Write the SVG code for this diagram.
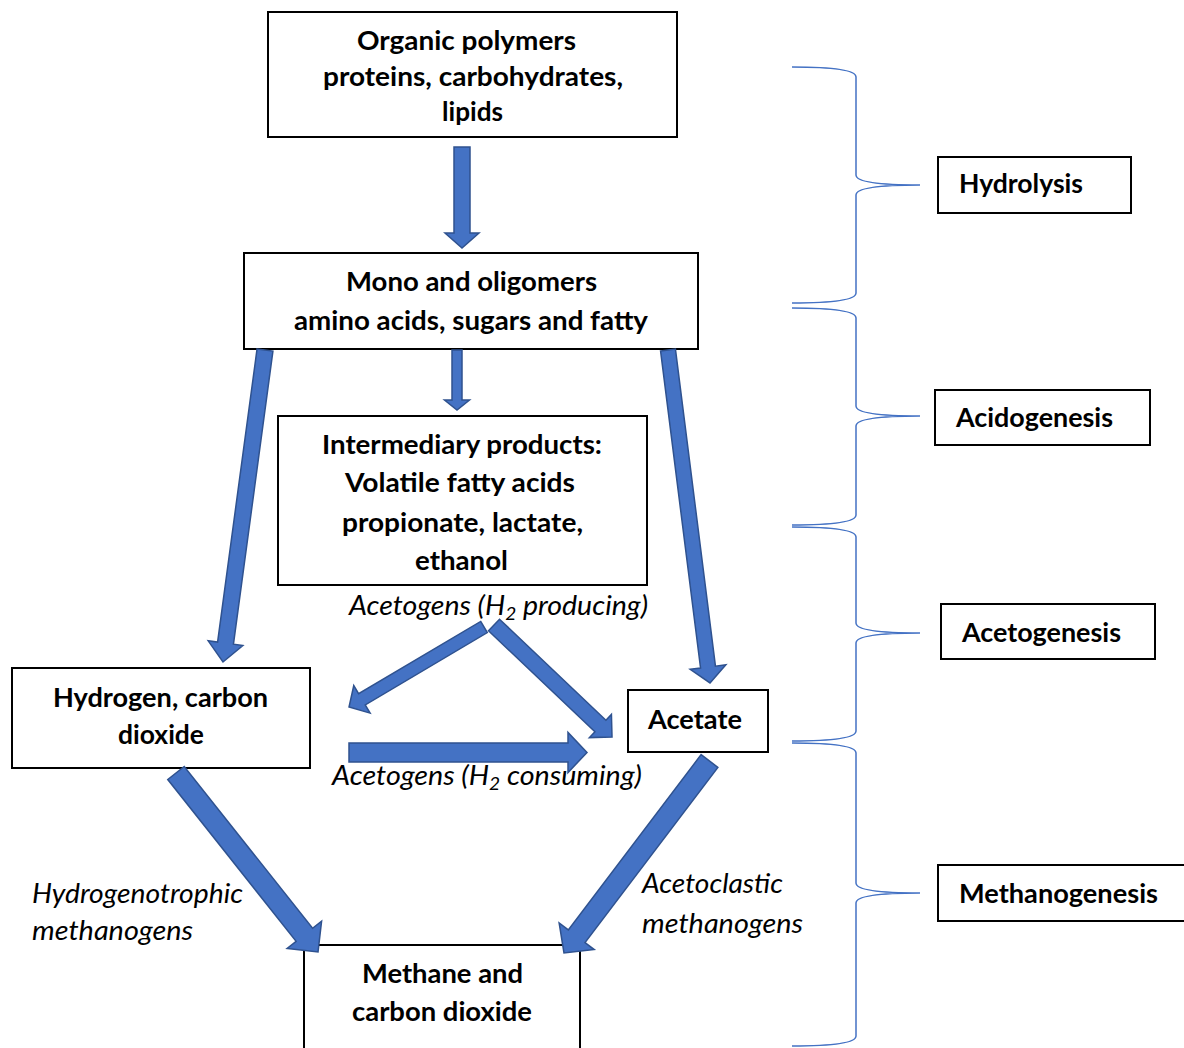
<svg xmlns="http://www.w3.org/2000/svg" width="1184" height="1048" viewBox="0 0 1184 1048">
<style>
.box{fill:#fff;stroke:#000;stroke-width:2}
.t{font-family:Lato,"Open Sans","Liberation Sans",sans-serif;font-weight:bold;font-size:27px;fill:#000}
.it{font-family:Lato,"Open Sans","Liberation Sans",sans-serif;font-style:italic;font-size:27px;fill:#000}
.arr{fill:#4472C4;stroke:#2F528F;stroke-width:1.5;stroke-linejoin:miter}
.brace{fill:none;stroke:#4472C4;stroke-width:1.5}
</style>
<rect width="1184" height="1048" fill="#fff"/>
<g id="organic-polymers">
<rect class="box" x="268" y="12" width="409" height="125"/>
<text class="t" x="357" y="50" textLength="219" lengthAdjust="spacingAndGlyphs">Organic polymers</text>
<text class="t" x="323" y="86" textLength="300" lengthAdjust="spacingAndGlyphs">proteins, carbohydrates,</text>
<text class="t" x="442" y="121" textLength="61" lengthAdjust="spacingAndGlyphs">lipids</text>
</g>
<g id="mono-oligomers">
<rect class="box" x="244" y="253" width="454" height="96"/>
<text class="t" x="346" y="291" textLength="251" lengthAdjust="spacingAndGlyphs">Mono and oligomers</text>
<text class="t" x="294" y="330" textLength="354" lengthAdjust="spacingAndGlyphs">amino acids, sugars and fatty</text>
</g>
<g id="intermediary">
<rect class="box" x="278" y="416" width="369" height="169"/>
<text class="t" x="322" y="454" textLength="280" lengthAdjust="spacingAndGlyphs">Intermediary products:</text>
<text class="t" x="345" y="492" textLength="230" lengthAdjust="spacingAndGlyphs">Volatile fatty acids</text>
<text class="t" x="342" y="532" textLength="241" lengthAdjust="spacingAndGlyphs">propionate, lactate,</text>
<text class="t" x="415" y="570" textLength="93" lengthAdjust="spacingAndGlyphs">ethanol</text>
</g>
<g id="hydrogen-co2">
<rect class="box" x="12" y="668" width="298" height="100"/>
<text class="t" x="53" y="707" textLength="215" lengthAdjust="spacingAndGlyphs">Hydrogen, carbon</text>
<text class="t" x="118" y="744" textLength="86" lengthAdjust="spacingAndGlyphs">dioxide</text>
</g>
<g id="acetate">
<rect class="box" x="628" y="690" width="140" height="62"/>
<text class="t" x="648" y="729" textLength="94" lengthAdjust="spacingAndGlyphs">Acetate</text>
</g>
<g id="methane-co2">
<rect class="box" x="304" y="945" width="276" height="120"/>
<text class="t" x="362" y="983" textLength="161" lengthAdjust="spacingAndGlyphs">Methane and</text>
<text class="t" x="352" y="1021" textLength="180" lengthAdjust="spacingAndGlyphs">carbon dioxide</text>
</g>
<g id="hydrolysis">
<rect class="box" x="938" y="157" width="193" height="56"/>
<text class="t" x="959" y="193" textLength="124" lengthAdjust="spacingAndGlyphs">Hydrolysis</text>
</g>
<g id="acidogenesis">
<rect class="box" x="935" y="390" width="215" height="55"/>
<text class="t" x="956" y="427" textLength="157" lengthAdjust="spacingAndGlyphs">Acidogenesis</text>
</g>
<g id="acetogenesis">
<rect class="box" x="941" y="604" width="214" height="55"/>
<text class="t" x="962" y="642" textLength="159" lengthAdjust="spacingAndGlyphs">Acetogenesis</text>
</g>
<g id="methanogenesis">
<rect class="box" x="938" y="865" width="260" height="56"/>
<text class="t" x="959" y="903" textLength="199" lengthAdjust="spacingAndGlyphs">Methanogenesis</text>
</g>
<g id="labels">
<text class="it" x="349" y="615" textLength="299" lengthAdjust="spacingAndGlyphs">Acetogens (H<tspan font-size="18" dy="5">2</tspan><tspan dy="-5"> producing)</tspan></text>
<text class="it" x="332" y="785" textLength="310" lengthAdjust="spacingAndGlyphs">Acetogens (H<tspan font-size="18" dy="5">2</tspan><tspan dy="-5"> consuming)</tspan></text>
<text class="it" x="32" y="903" textLength="211" lengthAdjust="spacingAndGlyphs">Hydrogenotrophic</text>
<text class="it" x="32" y="940" textLength="161" lengthAdjust="spacingAndGlyphs">methanogens</text>
<text class="it" x="642" y="893" textLength="141" lengthAdjust="spacingAndGlyphs">Acetoclastic</text>
<text class="it" x="642" y="933" textLength="161" lengthAdjust="spacingAndGlyphs">methanogens</text>
</g>
<g id="connectors">
<polygon class="arr" points="-8,0 8,0 8,86 17,86 0,101 -17,86 -8,86" transform="translate(462,147)"/>
<polygon class="arr" points="-5,0 5,0 5,50 12.5,50 0,60 -12.5,50 -5,50" transform="translate(457,350)"/>
<polygon class="arr" points="-8,0 8,0 8,295.8 17.5,295.8 0,314.8 -17.5,295.8 -8,295.8" transform="translate(265,350) rotate(7.67)"/>
<polygon class="arr" points="-7.5,0 7.5,0 7.5,319.6 18,319.6 0,335.6 -18,319.6 -7.5,319.6" transform="translate(668,350) rotate(-7.19)"/>
<polygon class="arr" points="-6.5,0 6.5,0 6.5,141.9 16,141.9 0,156.9 -16,141.9 -6.5,141.9" transform="translate(484,627) rotate(59.35)"/>
<polygon class="arr" points="-8,0 8,0 8,146.7 16,146.7 0,162.7 -16,146.7 -8,146.7" transform="translate(494,625) rotate(-46.5)"/>
<polygon class="arr" points="-9.5,0 9.5,0 9.5,219 20,219 0,238 -20,219 -9.5,219" transform="translate(349,752.5) rotate(-90)"/>
<polygon class="arr" points="-10.5,0 10.5,0 10.5,206.5 22,206.5 0,228.5 -22,206.5 -10.5,206.5" transform="translate(176,773) rotate(-38.43)"/>
<polygon class="arr" points="-10.5,0 10.5,0 10.5,219.9 22,219.9 0,240.9 -22,219.9 -10.5,219.9" transform="translate(709.5,761) rotate(37.16)"/>
</g>
<g id="braces">
<path class="brace" d="M792,67 C830,67 856,70 856,77 L856,175 C856,182 882,185 920,185 C882,185 856,188 856,195 L856,293 C856,300 830,303 792,303"/>
<path class="brace" d="M792,308 C830,308 856,311 856,318 L856,406 C856,413 882,416 920,416 C882,416 856,419 856,426 L856,515 C856,522 830,525 792,525"/>
<path class="brace" d="M792,527 C830,527 856,530 856,537 L856,623 C856,630 882,633 920,633 C882,633 856,636 856,643 L856,731 C856,738 830,741 792,741"/>
<path class="brace" d="M792,743 C830,743 856,746 856,753 L856,883 C856,890 882,893 920,893 C882,893 856,896 856,903 L856,1036 C856,1043 830,1046 792,1046"/>
</g>
</svg>
